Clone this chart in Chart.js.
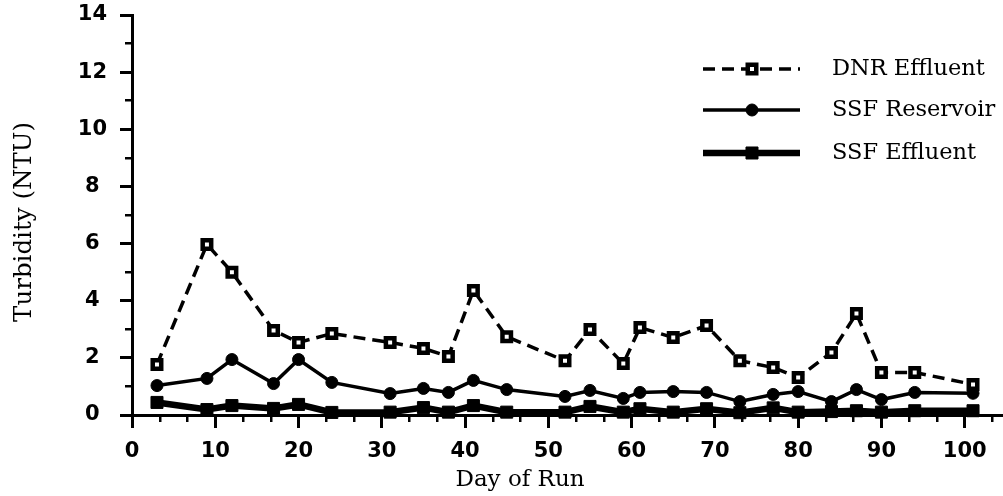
<!DOCTYPE html>
<html><head><meta charset="utf-8">
<script src="https://cdn.jsdelivr.net/npm/chart.js@4.4.1/dist/chart.umd.min.js"></script>
<style>html,body{margin:0;padding:0;background:#fff}canvas{display:block}</style>
</head><body>
<canvas id="c" width="1003" height="496"></canvas>
<script>
// ---- data ----
const days = [3, 9, 12, 17, 20, 24, 31, 35, 38, 41, 45, 52, 55, 59, 61, 65, 69, 73, 77, 80, 84, 87, 90, 94, 101];
const dnrEffluent  = [1.77, 5.97, 5.0, 2.96, 2.54, 2.85, 2.54, 2.33, 2.05, 4.36, 2.74, 1.9, 2.99, 1.8, 3.06, 2.71, 3.13, 1.9, 1.66, 1.31, 2.19, 3.55, 1.49, 1.49, 1.07];
const ssfReservoir = [1.03, 1.28, 1.94, 1.1, 1.94, 1.14, 0.75, 0.93, 0.79, 1.21, 0.89, 0.65, 0.86, 0.58, 0.79, 0.82, 0.79, 0.47, 0.72, 0.82, 0.47, 0.89, 0.54, 0.79, 0.76];
const ssfEffluent  = [0.44, 0.19, 0.33, 0.23, 0.37, 0.09, 0.1, 0.26, 0.1, 0.33, 0.1, 0.1, 0.3, 0.1, 0.22, 0.1, 0.22, 0.08, 0.25, 0.1, 0.12, 0.15, 0.1, 0.15, 0.15];
const seriesNames = ['DNR Effluent', 'SSF Reservoir', 'SSF Effluent'];
const xMajorTicks = [0, 10, 20, 30, 40, 50, 60, 70, 80, 90, 100];
const yMajorTicks = [0, 2, 4, 6, 8, 10, 12, 14];
const yMinorTicks = [1, 3, 5, 7, 9, 11, 13];
const xTitle = 'Day of Run';
const yTitle = 'Turbidity (NTU)';

const X_MIN = 0, X_MAX = 104.6, Y_MIN = 0, Y_MAX = 14;
const xMinorTicks = [];
for (let k = 1; k * 10 / 3 < X_MAX; k++) { if (k % 3 !== 0) xMinorTicks.push(k * 10 / 3); }

const INK = '#000';
Chart.defaults.font.family = "'DejaVu Sans', sans-serif";
Chart.defaults.color = INK;

const toPts = (vals) => days.map((d, i) => ({ x: d, y: vals[i] }));
const noPad = (s) => { s.paddingTop = 0; s.paddingBottom = 0; s.paddingLeft = 0; s.paddingRight = 0; };

const legendPlugin = {
  id: 'lineLegend',
  afterDraw(chart) {
    const ctx = chart.ctx;
    const rows = [69, 110, 153];
    chart.data.datasets.forEach((ds, i) => {
      const y = rows[i];
      ctx.save();
      ctx.strokeStyle = ds.borderColor;
      ctx.lineWidth = ds.borderWidth;
      ctx.setLineDash(ds.borderDash || []);
      ctx.beginPath(); ctx.moveTo(703, y); ctx.lineTo(800, y); ctx.stroke();
      ctx.setLineDash([]);
      ctx.fillStyle = ds.pointBackgroundColor;
      ctx.strokeStyle = ds.pointBorderColor;
      ctx.lineWidth = ds.pointBorderWidth;
      Chart.helpers.drawPoint(ctx, { pointStyle: ds.pointStyle, radius: ds.pointRadius, borderWidth: ds.pointBorderWidth, rotation: 0 }, 752, y);
      ctx.fillStyle = INK;
      ctx.font = "22.5px 'DejaVu Serif', serif";
      ctx.textAlign = 'left';
      ctx.textBaseline = 'middle';
      ctx.fillText(ds.label, 832, y);
      ctx.restore();
    });
  }
};

const axisTitlePlugin = {
  id: 'axisTitles',
  afterDraw(chart) {
    const ctx = chart.ctx;
    ctx.save();
    ctx.fillStyle = INK;
    ctx.font = "23px 'DejaVu Serif', serif";
    ctx.textAlign = 'center';
    ctx.textBaseline = 'alphabetic';
    ctx.fillText(xTitle, 520, 486);
    ctx.translate(25, 222);
    ctx.rotate(-Math.PI / 2);
    ctx.font = "24.5px 'DejaVu Serif', serif";
    ctx.textBaseline = 'middle';
    ctx.fillText(yTitle, 0, 0);
    ctx.restore();
  }
};

new Chart(document.getElementById('c'), {
  type: 'line',
  data: {
    datasets: [
      { label: seriesNames[0], data: toPts(dnrEffluent), borderColor: INK, borderWidth: 3.5, borderDash: [12, 7],
        pointStyle: 'rect', pointRadius: 6, pointBorderWidth: 4.5, pointBackgroundColor: '#fff', pointBorderColor: INK, tension: 0, clip: false },
      { label: seriesNames[1], data: toPts(ssfReservoir), borderColor: INK, borderWidth: 3.5,
        pointStyle: 'circle', pointRadius: 6, pointBorderWidth: 1, pointBackgroundColor: INK, pointBorderColor: INK, tension: 0, clip: false },
      { label: seriesNames[2], data: toPts(ssfEffluent), borderColor: INK, borderWidth: 6.5,
        pointStyle: 'rect', pointRadius: 8.5, pointBorderWidth: 1, pointBackgroundColor: INK, pointBorderColor: INK, tension: 0, clip: false }
    ]
  },
  options: {
    responsive: false,
    animation: false,
    devicePixelRatio: 1,
    layout: { autoPadding: false, padding: { top: 15, right: 0, bottom: 0, left: 0 } },
    plugins: { legend: { display: false }, tooltip: { enabled: false }, title: { display: false } },
    scales: {
      x: {
        type: 'linear', position: 'bottom', weight: 1, min: X_MIN, max: X_MAX,
        afterBuildTicks: s => { s.ticks = xMajorTicks.map(v => ({ value: v })); },
        afterFit: s => { s.height = 81; noPad(s); },
        border: { display: true, color: INK, width: 3 },
        grid: { drawOnChartArea: false, drawTicks: true, tickLength: 13, color: INK, lineWidth: 3 },
        ticks: { autoSkip: false, maxRotation: 0, padding: 11, color: INK, font: { size: 21, weight: 'bold' } }
      },
      xm: {
        type: 'linear', position: 'bottom', weight: 0, min: X_MIN, max: X_MAX,
        afterBuildTicks: s => { s.ticks = xMinorTicks.map(v => ({ value: v })); },
        afterFit: s => { s.height = 0; noPad(s); },
        border: { display: false },
        grid: { drawOnChartArea: false, drawTicks: true, tickLength: 7, color: INK, lineWidth: 2.5 },
        ticks: { display: false }
      },
      y: {
        type: 'linear', position: 'left', weight: 1, min: Y_MIN, max: Y_MAX,
        afterBuildTicks: s => { s.ticks = yMajorTicks.map(v => ({ value: v })); },
        afterFit: s => { s.width = 132; noPad(s); },
        border: { display: true, color: INK, width: 3 },
        grid: { drawOnChartArea: false, drawTicks: true, tickLength: 12, color: INK, lineWidth: 3 },
        ticks: { crossAlign: 'center', padding: 13, color: INK, font: { size: 21, weight: 'bold' } }
      },
      ym: {
        type: 'linear', position: 'left', weight: 0, min: Y_MIN, max: Y_MAX,
        afterBuildTicks: s => { s.ticks = yMinorTicks.map(v => ({ value: v })); },
        afterFit: s => { s.width = 0; noPad(s); },
        border: { display: false },
        grid: { drawOnChartArea: false, drawTicks: true, tickLength: 7, color: INK, lineWidth: 2.5 },
        ticks: { display: false }
      }
    }
  },
  plugins: [legendPlugin, axisTitlePlugin]
});
</script>
</body></html>
